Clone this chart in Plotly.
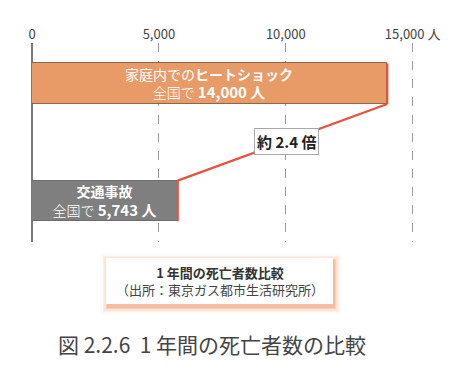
import plotly.graph_objects as go

# ---- data ----
categories = ["家庭内でのヒートショック", "交通事故"]
label_top = ["家庭内での<b>ヒートショック</b>", "<b>交通事故</b>"]
deaths = [14000, 5743]
tick_vals = [0, 5000, 10000, 15000]
tick_text = ["0", "5,000", "10,000", "15,000 人"]
box_title = "1 年間の死亡者数比較"
box_source = "（出所：東京ガス都市生活研究所）"
caption = "図 2.2.6  1 年間の死亡者数の比較"

FONT = "Noto Sans CJK JP"
W, H = 460, 369
L, R, T, B = 32, 22, 43, 127
PW, PH = W - L - R, H - T - B

def px(x):
    return (x - L) / PW

def py(y):
    return (H - B - y) / PH

bar_colors = ["#E99B67", "#7F7F7F"]
line_colors = ["rgba(120,85,60,0.85)", "rgba(100,100,100,0.9)"]
red = "#E5533C"
half = 0.347 / 2

texts = [f"{t}<br><span style='font-weight:300'>全国で</span> <b><span style='font-size:15px'>{v:,} 人</span></b>"
         for t, v in zip(label_top, deaths)]

fig = go.Figure()
fig.add_trace(go.Bar(
    x=deaths, y=categories, orientation="h",
    marker=dict(color=bar_colors, line=dict(color=line_colors, width=1)),
    width=0.347,
    text=texts, textposition="inside", insidetextanchor="middle",
    textangle=0, constraintext="none",
    textfont=dict(family=FONT, size=14, color="white"),
    hoverinfo="skip",
))

shapes = []
# red right edges
for i, v in enumerate(deaths):
    shapes.append(dict(type="line", xref="x", yref="y", x0=v, x1=v,
                       y0=i - half, y1=i + half, line=dict(color=red, width=2.2)))
# connecting line: bottom-right of first bar to top-right of second bar
shapes.append(dict(type="line", xref="x", yref="y", x0=deaths[0], y0=0 + half,
                   x1=deaths[1], y1=1 - half, line=dict(color=red, width=2.2)))

# legend box with orange glow shadow
bx0, bx1, by0, by1 = 106, 333, 258, 304
for k, a in [(7, 0.05), (5, 0.08), (3.5, 0.12), (2, 0.18), (1, 0.25)]:
    shapes.append(dict(type="rect", xref="paper", yref="paper", layer="above",
                       x0=px(bx0 - k + 2), x1=px(bx1 + k + 1),
                       y0=py(by1 + k + 3), y1=py(by0 - k + 3),
                       fillcolor=f"rgba(235,130,70,{a})", line=dict(width=0)))
shapes.append(dict(type="rect", xref="paper", yref="paper", layer="above",
                   x0=px(bx0), x1=px(bx1), y0=py(by1), y1=py(by0),
                   fillcolor="white", line=dict(width=0)))

annotations = [
    dict(x=(deaths[0] + deaths[1]) / 2, y=0.5, xref="x", yref="y", xshift=4, yshift=1,
         text=f"<b>約 {deaths[0] / deaths[1]:.1f} 倍</b>", showarrow=False,
         font=dict(family=FONT, size=15, color="#222"),
         bgcolor="white", bordercolor="#A8A8A8", borderwidth=1, borderpad=2),
    dict(x=px(219.5), y=py(280.5), xref="paper", yref="paper",
         text=f"<b><span style='color:#333'>{box_title}</span></b><br>{box_source}",
         xanchor="center", yanchor="middle",
         showarrow=False, font=dict(family=FONT, size=13, color="#444")),
    dict(x=px(212), y=py(344), xref="paper", yref="paper", text=caption,
         xanchor="center", yanchor="middle",
         showarrow=False, font=dict(family=FONT, size=21, color="#444")),
]

fig.update_layout(
    width=W, height=H,
    margin=dict(l=L, r=R, t=T, b=B, pad=0),
    paper_bgcolor="white", plot_bgcolor="white",
    showlegend=False, bargap=0,
    font=dict(family=FONT, color="#444"),
    xaxis=dict(range=[0, 16000], side="top", tickvals=tick_vals, ticktext=tick_text,
               tickfont=dict(family=FONT, size=13, color="#444"),
               showgrid=True, gridcolor="#9A9A9A", griddash="dash", gridwidth=1,
               zeroline=True, zerolinecolor="#7A7A7A", zerolinewidth=2,
               showline=False, ticks="", fixedrange=True),
    yaxis=dict(range=[1.3495, -0.347], showticklabels=False, showgrid=False,
               zeroline=False, ticks="", fixedrange=True),
    shapes=shapes, annotations=annotations,
)

fig.write_html("out.html")
